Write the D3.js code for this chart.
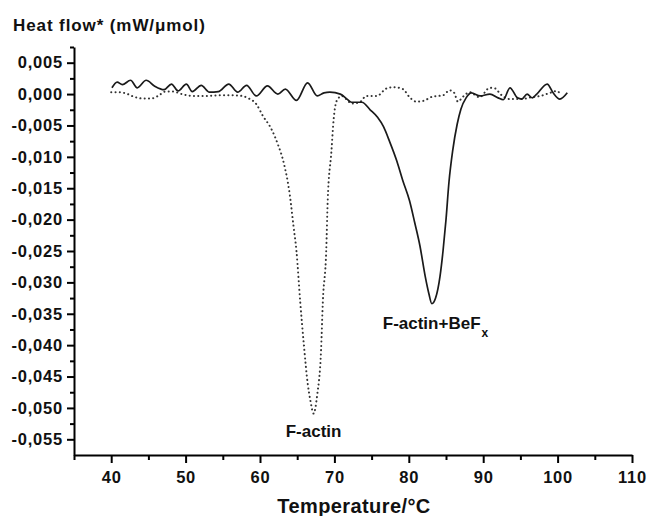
<!DOCTYPE html>
<html>
<head>
<meta charset="utf-8">
<script src="https://cdn.jsdelivr.net/npm/d3@7"></script>
<style>
  body { margin: 0; background: #fff; }
  svg { display: block; font-family: "Liberation Sans", Arial, Helvetica, sans-serif; font-weight: bold; }
</style>
</head>
<body>
<svg id="chart" width="648" height="516"></svg>
<script>
// F-actin (dotted)
const factinT = [40.0, 41.0, 42.0, 43.0, 44.2, 45.4, 46.3, 47.3, 48.3, 49.5, 51.0, 52.6, 54.5, 56.3, 57.6,
  58.3, 59.5, 60.4, 61.5, 62.4, 63.2, 64.0, 64.5, 64.9, 65.4, 65.9, 66.4, 66.8, 67.2,
  67.7, 68.2, 68.45, 68.9, 69.1, 69.6, 69.9, 70.3, 71.0, 71.6, 72.3, 73.4, 74.3, 75.7,
  77.0, 77.9, 79.2, 80.1, 81.0, 81.9, 83.2, 84.6, 85.5, 86.1, 86.6, 87.3, 88.2, 89.5,
  90.9, 91.6, 92.3, 93.6, 95.2, 96.5, 97.7, 99.0, 99.9, 100.3];
const factinHF = [0.0003, 0.0003, 0.0001, -0.0004, -0.0007, -0.0007, -0.0003, 0.0004, 0.0004, 0.0000, -0.0003, -0.0003, -0.0002, -0.0002, -0.0003,
  -0.0006, -0.0016, -0.0035, -0.0055, -0.0080, -0.0110, -0.0160, -0.0210, -0.0250, -0.0330, -0.0400, -0.0460, -0.0490, -0.0509,
  -0.0478, -0.0410, -0.0330, -0.0250, -0.0170, -0.0091, -0.0040, -0.0011, -0.0003, -0.0008, -0.0015, -0.0013, -0.0003, -0.0003,
  0.0009, 0.0011, 0.0008, -0.0005, -0.0012, -0.0011, -0.0004, -0.0002, 0.0006, 0.0002, -0.0012, -0.0004, 0.0003, -0.0005,
  0.0010, 0.0009, 0.0000, -0.0008, -0.0008, -0.0005, -0.0003, 0.0002, 0.0005, 0.0001];

// F-actin+BeFx (solid)
const befxT = [40.1, 40.8, 41.5, 42.6, 43.5, 44.7, 45.8, 47.1, 48.1, 49.0, 50.1, 50.9, 52.1, 53.2, 54.4,
  55.8, 57.0, 58.2, 59.5, 61.0, 62.4, 63.4, 64.9, 66.4, 67.7, 68.6, 69.4, 70.8, 71.7, 72.3,
  73.7, 74.8, 75.8, 76.6, 77.4, 78.4, 79.2, 80.1, 80.8, 81.5, 82.2, 82.7, 83.1, 83.6, 84.2,
  84.6, 85.0, 85.4, 85.9, 86.5, 87.0, 87.7, 88.4, 89.6, 90.9, 92.0, 92.7, 93.6, 94.6, 95.2,
  95.9, 96.6, 97.2, 98.6, 99.4, 100.3, 101.3];
const befxHF = [0.0010, 0.0019, 0.0015, 0.0022, 0.0010, 0.0022, 0.0013, 0.0007, 0.0016, 0.0005, 0.0016, 0.0004, 0.0014, 0.0003, 0.0004,
  0.0016, 0.0003, 0.0014, -0.0003, 0.0013, 0.0000, 0.0008, -0.0010, 0.0018, -0.0003, 0.0002, 0.0003, 0.0000, -0.0008, -0.0013,
  -0.0013, -0.0025, -0.0037, -0.0052, -0.0075, -0.0107, -0.0138, -0.0170, -0.0205, -0.0242, -0.0290, -0.0318, -0.0334, -0.0325, -0.0290,
  -0.0250, -0.0200, -0.0140, -0.0090, -0.0048, -0.0024, -0.0006, 0.0002, -0.0003, 0.0000, -0.0006, -0.0009, 0.0010, -0.0006, -0.0008,
  0.0000, -0.0006, 0.0000, 0.0016, 0.0002, -0.0008, 0.0002];

const xTicks = [40, 50, 60, 70, 80, 90, 100, 110];
const xMinorTicks = [35, 45, 55, 65, 75, 85, 95, 105];
const yTicks = [0.005, 0, -0.005, -0.010, -0.015, -0.020, -0.025, -0.030, -0.035, -0.040, -0.045, -0.050, -0.055];
const yMinorTicks = [0.0075, 0.0025, -0.0025, -0.0075, -0.0125, -0.0175, -0.0225, -0.0275, -0.0325, -0.0375, -0.0425, -0.0475, -0.0525];

const svg = d3.select("#chart");

const x = d3.scaleLinear().domain([35, 110]).range([74, 632]);
const y = d3.scaleLinear().domain([-0.0575, 0.0075]).range([455, 47]);

const fmt = d3.formatLocale({
  decimal: ",", thousands: ".", grouping: [3], currency: ["", ""], minus: "-"
}).format(".3f");

// minor ticks first
svg.append("g")
  .attr("transform", "translate(0,455)")
  .call(d3.axisBottom(x).tickValues(xMinorTicks).tickSize(5).tickFormat(""))
  .call((g) => g.select(".domain").remove())
  .call((g) => g.selectAll("line").attr("stroke-width", 2));

svg.append("g")
  .attr("transform", "translate(74,0)")
  .call(d3.axisLeft(y).tickValues(yMinorTicks).tickSize(4).tickFormat(""))
  .call((g) => g.select(".domain").remove())
  .call((g) => g.selectAll("line").attr("stroke-width", 2));

const xAxis = svg.append("g")
  .attr("transform", "translate(0,455)")
  .call(d3.axisBottom(x).tickValues(xTicks).tickSize(8).tickPadding(8).tickSizeOuter(0));
xAxis.select(".domain").attr("stroke-width", 2);
xAxis.selectAll("line").attr("stroke-width", 2);
xAxis.selectAll("text")
  .attr("font-size", 16.5)
  .attr("font-weight", "bold")
  .attr("letter-spacing", 0.8)
  .attr("fill", "#111");

const yAxis = svg.append("g")
  .attr("transform", "translate(74,0)")
  .call(d3.axisLeft(y).tickValues(yTicks).tickSize(7).tickPadding(4).tickSizeOuter(0).tickFormat(fmt));
yAxis.select(".domain").attr("stroke-width", 2);
yAxis.selectAll("line").attr("stroke-width", 2);
yAxis.selectAll("text")
  .attr("font-size", 16.5)
  .attr("font-weight", "bold")
  .attr("letter-spacing", 0.8)
  .attr("fill", "#111");

const line = d3.line()
  .x((d) => x(d[0]))
  .y((d) => y(d[1]))
  .curve(d3.curveMonotoneX);

svg.append("path")
  .datum(d3.zip(factinT, factinHF))
  .attr("fill", "none")
  .attr("stroke", "#333")
  .attr("stroke-width", 2)
  .attr("stroke-linecap", "round")
  .attr("stroke-dasharray", "0.1,4.2")
  .attr("d", line);

svg.append("path")
  .datum(d3.zip(befxT, befxHF))
  .attr("fill", "none")
  .attr("stroke", "#1a1a1a")
  .attr("stroke-width", 1.7)
  .attr("d", line);

// annotations
svg.append("text")
  .attr("x", x(67.2))
  .attr("y", y(-0.0547))
  .attr("text-anchor", "middle")
  .attr("font-size", 17)
  .attr("fill", "#111")
  .text("F-actin");

const lbl = svg.append("text")
  .attr("x", x(76.5))
  .attr("y", y(-0.0374))
  .attr("font-size", 17)
  .attr("fill", "#111")
  .text("F-actin+BeF");
lbl.append("tspan")
  .attr("font-size", 12)
  .attr("dx", 1)
  .attr("dy", 8)
  .text("x");

svg.append("text")
  .attr("x", 13)
  .attr("y", 31)
  .attr("font-size", 17)
  .attr("letter-spacing", 0.9)
  .attr("fill", "#111")
  .text("Heat flow* (mW/\u03bcmol)");

svg.append("text")
  .attr("x", 354)
  .attr("y", 513)
  .attr("text-anchor", "middle")
  .attr("font-size", 20)
  .attr("letter-spacing", 0.4)
  .attr("fill", "#111")
  .text("Temperature/\u00b0C");
</script>
</body>
</html>
